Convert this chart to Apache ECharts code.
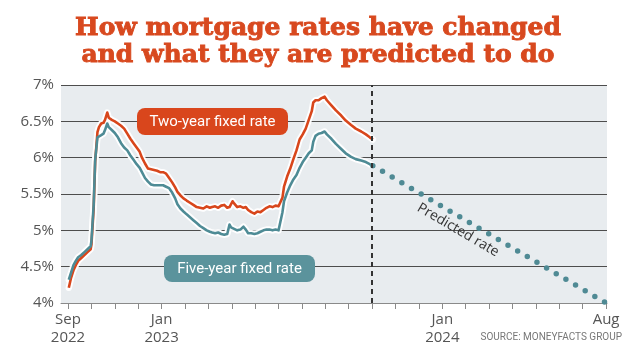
<!DOCTYPE html>
<html><head><meta charset="utf-8">
<script src="https://cdn.jsdelivr.net/npm/echarts@6/dist/echarts.min.js"></script>
<style>html,body{margin:0;padding:0;background:#fff}#c{width:635px;height:358px}</style>
</head><body><div id="c"></div>
<script>
// ---- data ----
const dates = [
'2022-09-02','2022-09-05','2022-09-08','2022-09-11','2022-09-14','2022-09-18','2022-09-22','2022-09-26','2022-09-30','2022-10-01',
'2022-10-04','2022-10-06','2022-10-09','2022-10-11','2022-10-14','2022-10-17','2022-10-19','2022-10-22','2022-10-24','2022-10-28',
'2022-11-01','2022-11-05','2022-11-09','2022-11-13','2022-11-17','2022-11-21','2022-11-25','2022-11-29','2022-12-03','2022-12-06',
'2022-12-10','2022-12-14','2022-12-18','2022-12-22','2022-12-26','2022-12-30','2023-01-03','2023-01-07','2023-01-11','2023-01-15',
'2023-01-19','2023-01-22','2023-01-26','2023-01-30','2023-02-03','2023-02-07','2023-02-11','2023-02-15','2023-02-19','2023-02-23',
'2023-02-27','2023-03-03','2023-03-06','2023-03-10','2023-03-14','2023-03-18','2023-03-22','2023-03-26','2023-03-29','2023-03-31',
'2023-04-02','2023-04-04','2023-04-08','2023-04-12','2023-04-16','2023-04-19','2023-04-22','2023-04-26','2023-04-30','2023-05-04',
'2023-05-08','2023-05-12','2023-05-16','2023-05-20','2023-05-24','2023-05-28','2023-06-01','2023-06-03','2023-06-06','2023-06-08',
'2023-06-12','2023-06-16','2023-06-20','2023-06-24','2023-06-28','2023-07-02','2023-07-06','2023-07-10','2023-07-14','2023-07-16',
'2023-07-19','2023-07-23','2023-07-27','2023-07-31','2023-08-03','2023-08-09','2023-08-15','2023-08-22','2023-08-28','2023-09-04',
'2023-09-10','2023-09-17','2023-09-23','2023-09-28','2023-10-02'
];
const twoYear = [
4.21,4.35,4.45,4.52,4.58,4.62,4.66,4.70,4.74,4.80,
5.30,5.95,6.35,6.42,6.47,6.48,6.52,6.62,6.55,6.52,
6.50,6.47,6.44,6.40,6.33,6.26,6.20,6.14,6.08,6.00,
5.92,5.85,5.84,5.83,5.82,5.80,5.80,5.78,5.72,5.66,
5.59,5.53,5.48,5.44,5.41,5.38,5.35,5.32,5.31,5.30,
5.33,5.31,5.32,5.33,5.31,5.34,5.35,5.31,5.32,5.33,
5.40,5.37,5.32,5.33,5.31,5.32,5.28,5.25,5.23,5.26,
5.25,5.28,5.31,5.33,5.32,5.34,5.33,5.38,5.45,5.60,
5.74,5.85,5.98,6.10,6.25,6.32,6.40,6.52,6.64,6.76,
6.79,6.79,6.82,6.84,6.79,6.72,6.65,6.58,6.51,6.45,
6.40,6.36,6.32,6.28,6.25
];
const fiveYear = [
4.32,4.42,4.52,4.58,4.63,4.66,4.70,4.74,4.78,4.85,
5.35,5.97,6.28,6.30,6.31,6.33,6.38,6.47,6.42,6.38,
6.34,6.28,6.20,6.14,6.10,6.03,5.97,5.91,5.86,5.80,
5.72,5.67,5.63,5.62,5.62,5.62,5.62,5.60,5.58,5.52,
5.44,5.36,5.30,5.26,5.22,5.18,5.14,5.10,5.06,5.03,
5.00,4.98,4.97,4.96,4.97,4.95,4.94,4.95,5.08,5.04,
5.03,5.02,5.00,5.01,5.05,5.01,4.96,4.96,4.95,4.96,
4.98,5.00,5.01,5.01,5.00,5.01,5.00,5.02,5.25,5.40,
5.52,5.62,5.70,5.76,5.86,5.94,6.00,6.06,6.10,6.22,
6.30,6.33,6.34,6.36,6.32,6.26,6.19,6.12,6.06,6.01,
5.98,5.96,5.94,5.91,5.89
];
const predictedDates = ['2023-10-02','2024-08-01'];
const predictedValues = [5.89, 4.00];
const dividerDate = '2023-10-01';
const tickMonths = ['2022-09','2022-10','2022-11','2022-12','2023-01','2023-02','2023-03','2023-04','2023-05','2023-06','2023-07','2023-08',
  '2023-09','2023-10','2023-11','2023-12','2024-01','2024-02','2024-03','2024-04','2024-05','2024-06','2024-07','2024-08'];
const labelMonths = ['2022-09','2023-01','2024-01','2024-08'];
const labelTexts = ['Sep\n2022','Jan\n2023','Jan\n2024','Aug'];
const titleLines = ['How mortgage rates have changed','and what they are predicted to do'];

// ---- helpers ----
function monthIndex(s){
  const p = s.split('-').map(Number);
  const y = p[0], m = p[1], d = p[2] || 1;
  const dim = new Date(y, m, 0).getDate();
  return (y - 2022) * 12 + (m - 9) + (d - 1) / dim;
}
const pair = (ds, vs) => ds.map((d, i) => [monthIndex(d), vs[i]]);
const tickVals = tickMonths.map(monthIndex);
const labelVals = labelMonths.map(monthIndex);

const ORANGE = '#d8461b', TEAL = '#4e8b95', TITLE = '#d8491f';
const chart = echarts.init(document.getElementById('c'), null, {renderer:'canvas'});
const haloLine = (name, ds, vs) => ({
  name, type:'line', data: pair(ds, vs), symbol:'none', silent:true, z:2,
  lineStyle:{color:'rgba(255,255,255,0.95)', width:6.5, cap:'round', join:'round'}
});
chart.setOption({
  animation:false,
  grid:{left:61, right:28, top:85, bottom:55, show:true, backgroundColor:'#e8ecef', borderWidth:0},
  xAxis:{
    type:'value', min:-0.3, max:23.04,
    splitLine:{show:false},
    axisLine:{show:true, lineStyle:{color:'#8a8a8a', width:1}},
    axisTick:{show:true, customValues:tickVals, length:6, lineStyle:{color:'#8a8a8a'}},
    axisLabel:{show:true, customValues:labelVals, margin:8,
      formatter:(v)=>{const i = labelVals.findIndex(x=>Math.abs(x-v)<1e-6); return i>=0?labelTexts[i]:'';},
      fontFamily:'Open Sans', fontSize:15, color:'#555', lineHeight:18}
  },
  yAxis:{
    type:'value', min:4, max:7, interval:0.5,
    axisLine:{show:false}, axisTick:{show:false},
    splitLine:{show:true, lineStyle:{color:'#4d4d4d', width:1}},
    axisLabel:{formatter:(v)=>v+'%', fontFamily:'Open Sans', fontSize:15, color:'#555', margin:7}
  },
  series:[
    haloLine('twoHalo', dates, twoYear),
    {name:'Two-year fixed rate', type:'line', data:pair(dates, twoYear), symbol:'none', z:3,
     lineStyle:{color:ORANGE, width:2.6, join:'round'}},
    haloLine('fiveHalo', dates, fiveYear),
    {name:'Five-year fixed rate', type:'line', data:pair(dates, fiveYear), symbol:'none', z:5,
     lineStyle:{color:TEAL, width:2.6, join:'round'},
     markLine:{silent:true, symbol:'none', label:{show:false}, z:6,
       lineStyle:{color:'#333', width:2, type:[5,4]},
       data:[{xAxis: monthIndex(dividerDate)}]}},
    {name:'Predicted rate', type:'line', data:pair(predictedDates, predictedValues), symbol:'none', z:4,
     lineStyle:{color:'#4f8a94', width:5.5, type:[0, 11.2], cap:'round'}}
  ],
  graphic:[
    {type:'text', x:318, y:28, style:{text:titleLines[0], font:'bold 25px "DejaVu Serif"', fill:TITLE, stroke:TITLE, lineWidth:0.9, align:'center', verticalAlign:'middle'}},
    {type:'text', x:318, y:55, style:{text:titleLines[1], font:'bold 25px "DejaVu Serif"', fill:TITLE, stroke:TITLE, lineWidth:0.9, align:'center', verticalAlign:'middle'}},
    {type:'rect', shape:{x:137, y:108, width:151, height:27, r:8}, style:{fill:'#d9461c'}, z:10},
    {type:'text', x:212.5, y:122, style:{text:'Two-year fixed rate', font:'15px Roboto', fill:'#fff', align:'center', verticalAlign:'middle'}, z:11},
    {type:'rect', shape:{x:164, y:255, width:151, height:27, r:8}, style:{fill:'#5b939c'}, z:10},
    {type:'text', x:239.5, y:269, style:{text:'Five-year fixed rate', font:'15px Roboto', fill:'#fff', align:'center', verticalAlign:'middle'}, z:11},
    {type:'text', x:458, y:230, rotation:-0.53, style:{text:'Predicted rate', font:'14px "Open Sans"', fill:'#333', align:'center', verticalAlign:'middle'}, z:11},
    {type:'text', x:622, y:337, style:{text:'SOURCE: MONEYFACTS GROUP', font:'10px Roboto', fill:'#777', align:'right', verticalAlign:'middle'}, z:11}
  ]
});
</script></body></html>
